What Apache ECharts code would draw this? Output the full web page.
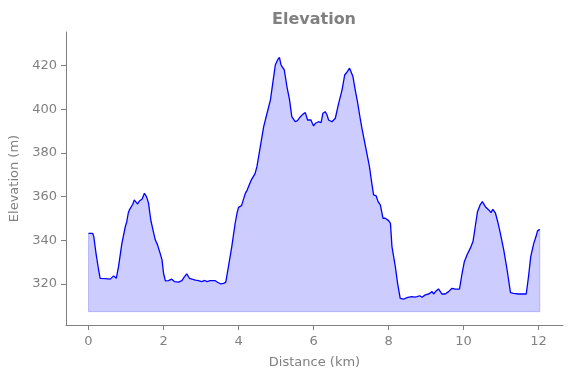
<!DOCTYPE html>
<html>
<head>
<meta charset="utf-8">
<script src="https://cdn.jsdelivr.net/npm/echarts@6/dist/echarts.min.js"></script>
<style>
  html, body { margin: 0; padding: 0; background: #fff; }
  #chart { width: 571px; height: 378px; }
</style>
</head>
<body>
<div id="chart"></div>
<script>
// distance along the route (km)
var distance = [
  0.00, 0.11, 0.14, 0.20, 0.27, 0.31, 0.35, 0.45, 0.58, 0.62, 0.67, 0.71, 0.74, 0.80, 0.89, 0.98,
  1.02, 1.06, 1.09, 1.14, 1.18, 1.22, 1.26, 1.31, 1.35, 1.38, 1.43, 1.49, 1.53, 1.56, 1.60, 1.66,
  1.72, 1.78, 1.84, 1.91, 1.96, 2.00, 2.05, 2.13, 2.18, 2.22, 2.29, 2.40, 2.49, 2.55, 2.62, 2.69,
  2.76, 2.80, 2.85, 2.93, 3.02, 3.10, 3.16, 3.24, 3.29, 3.38, 3.44, 3.53, 3.60, 3.66, 3.73, 3.82,
  3.91, 3.96, 4.00, 4.08, 4.12, 4.18, 4.23, 4.27, 4.30, 4.33, 4.38, 4.44, 4.49, 4.58, 4.67, 4.76,
  4.85, 4.93, 4.98, 5.04, 5.09, 5.13, 5.16, 5.22, 5.29, 5.36, 5.42, 5.47, 5.51, 5.57, 5.65, 5.72,
  5.78, 5.84, 5.88, 5.93, 5.97, 6.00, 6.05, 6.13, 6.20, 6.25, 6.31, 6.36, 6.40, 6.49, 6.58, 6.67,
  6.76, 6.83, 6.90, 6.96, 7.01, 7.05, 7.11, 7.17, 7.25, 7.29, 7.35, 7.42, 7.49, 7.54, 7.60, 7.67,
  7.72, 7.78, 7.85, 7.91, 8.00, 8.05, 8.09, 8.18, 8.24, 8.31, 8.40, 8.49, 8.55, 8.62, 8.70, 8.76,
  8.83, 8.89, 8.98, 9.07, 9.12, 9.16, 9.20, 9.25, 9.33, 9.38, 9.42, 9.51, 9.56, 9.60, 9.69, 9.78,
  9.89, 9.96, 10.02, 10.09, 10.18, 10.25, 10.31, 10.37, 10.44, 10.50, 10.58, 10.67, 10.73, 10.78, 10.85, 10.91,
  10.98, 11.07, 11.16, 11.25, 11.33, 11.47, 11.60, 11.67, 11.73, 11.79, 11.87, 11.93, 11.97, 12.03
];
// elevation (m)
var elevation = [
  343.2, 343.2, 341.8, 334.0, 326.4, 322.6, 322.3, 322.4, 322.2, 321.8, 323.7, 323.4, 322.6, 327.9, 338.6, 346.2,
  348.5, 352.5, 353.9, 354.7, 356.5, 358.5, 357.8, 356.6, 357.9, 358.2, 358.9, 361.5, 360.5, 359.3, 357.0, 349.3,
  344.7, 340.2, 337.9, 334.0, 331.0, 324.9, 321.4, 321.5, 322.0, 322.2, 321.1, 320.8, 321.5, 323.1, 324.6, 322.6,
  322.2, 323.1, 321.8, 321.5, 321.1, 321.6, 321.1, 321.5, 321.4, 321.5, 320.8, 320.0, 320.3, 320.8, 327.9, 337.1,
  347.8, 352.5, 355.1, 355.9, 356.2, 361.5, 363.0, 363.8, 366.0, 367.3, 366.9, 370.5, 373.7, 382.9, 392.1, 398.2,
  404.3, 414.2, 420.3, 422.6, 423.8, 420.5, 419.5, 418.0, 410.4, 404.3, 396.6, 395.9, 394.3, 394.8, 396.6, 397.8,
  398.5, 395.1, 394.5, 395.1, 393.5, 392.4, 393.6, 394.3, 393.9, 398.2, 398.9, 397.4, 395.1, 394.3, 395.9, 402.8,
  408.9, 415.7, 417.3, 418.8, 418.0, 415.0, 408.9, 403.5, 395.1, 391.3, 386.0, 379.9, 373.7, 367.6, 360.8, 360.3,
  357.7, 356.2, 350.1, 350.1, 349.0, 347.8, 337.1, 327.9, 320.3, 313.4, 313.0, 313.7, 314.0, 314.2, 314.0, 314.2,
  314.6, 313.9, 315.0, 315.4, 314.8, 316.5, 315.4, 316.5, 317.7, 316.5, 315.4, 315.4, 316.0, 316.5, 318.0, 317.6,
  317.6, 324.9, 330.2, 333.3, 336.4, 339.4, 346.2, 353.1, 356.2, 357.7, 355.4, 353.9, 352.7, 354.2, 352.4, 348.5,
  343.2, 335.6, 326.4, 316.0, 315.7, 315.4, 315.4, 315.4, 323.3, 332.5, 338.6, 341.7, 344.3, 345.0
];
var baseline = 307.3;
var xTicks = [0, 2, 4, 6, 8, 10, 12];
var yTicks = [320, 340, 360, 380, 400, 420];

var grey = '#808080';
var font = 'DejaVu Sans';

var profile = distance.map(function (d, i) { return [d, elevation[i]]; });
var last = distance.length - 1;
var outline = [
  [distance[0], elevation[0]],
  [distance[0], baseline],
  [distance[last], baseline],
  [distance[last], elevation[last]]
];

var chart = echarts.init(document.getElementById('chart'), null, { renderer: 'canvas' });
chart.setOption({
  animation: false,
  backgroundColor: '#fff',
  title: {
    text: 'Elevation',
    left: 267,
    top: 7,
    textStyle: { color: grey, fontSize: 16, fontWeight: 'bold', fontFamily: font }
  },
  grid: { left: 66, right: 8, top: 32, bottom: 53 },
  xAxis: {
    type: 'value',
    min: -0.6,
    max: 12.65,
    name: 'Distance (km)',
    nameLocation: 'middle',
    nameGap: 31,
    nameTextStyle: { color: grey, fontSize: 13, fontFamily: font },
    axisLine: { onZero: false, lineStyle: { color: grey, width: 1 } },
    axisTick: { customValues: xTicks, length: 5, lineStyle: { color: grey } },
    axisLabel: { customValues: xTicks, color: grey, fontSize: 13, fontFamily: font, margin: 10 },
    splitLine: { show: false }
  },
  yAxis: {
    type: 'value',
    min: 301.2,
    max: 435.4,
    name: 'Elevation (m)',
    nameLocation: 'middle',
    nameGap: 38,
    nameRotate: 90,
    nameTextStyle: { color: grey, fontSize: 13, fontFamily: font },
    axisLine: { show: true, onZero: false, lineStyle: { color: grey, width: 1 } },
    axisTick: { show: true, customValues: yTicks, length: 5, lineStyle: { color: grey } },
    axisLabel: { customValues: yTicks, color: grey, fontSize: 13, fontFamily: font, margin: 9 },
    splitLine: { show: false }
  },
  series: [
    {
      type: 'line',
      data: outline,
      showSymbol: false,
      silent: true,
      z: 1,
      lineStyle: { color: 'rgba(0,0,255,0.2)', width: 1 }
    },
    {
      type: 'line',
      data: profile,
      showSymbol: false,
      z: 2,
      lineStyle: { color: '#0000ff', width: 1.3 },
      areaStyle: { color: 'rgba(0,0,255,0.2)', origin: baseline, opacity: 1 }
    }
  ]
});
</script>
</body>
</html>
